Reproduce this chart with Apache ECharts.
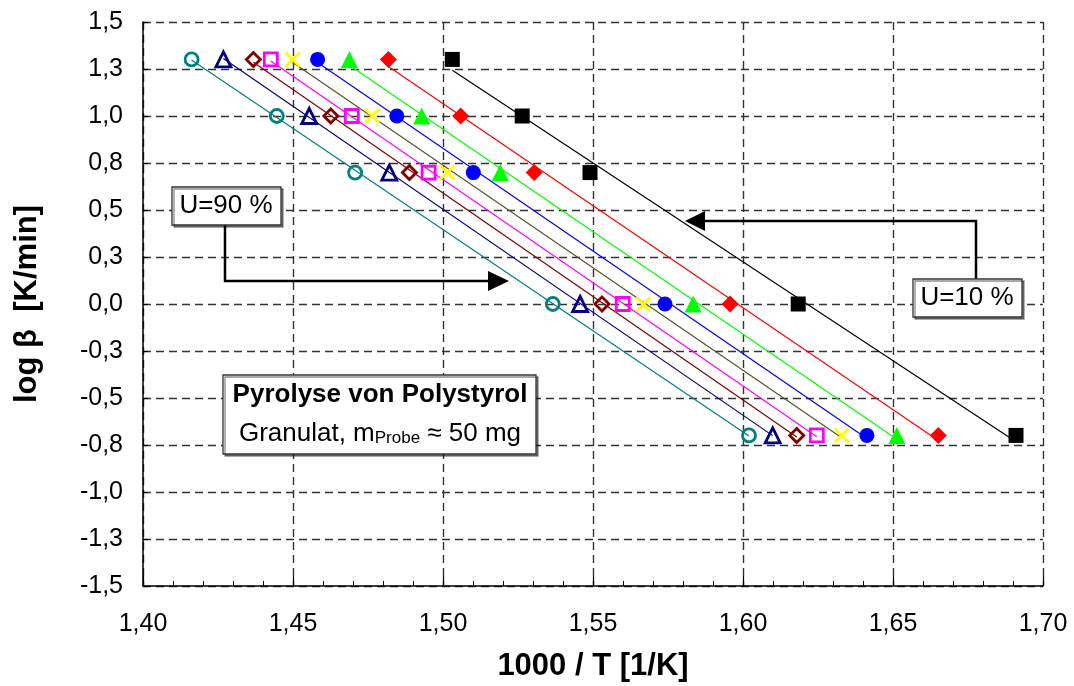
<!DOCTYPE html>
<html>
<head>
<meta charset="utf-8">
<script src="https://cdn.jsdelivr.net/npm/echarts@6/dist/echarts.min.js"></script>
<style>
  html, body { margin: 0; padding: 0; background: #fff; }
  #chart { width: 1074px; height: 686px; }
</style>
</head>
<body>
<div id="chart"></div>
<script>
// log beta (heating rates 20, 10, 5, 1, 0.2 K/min)
const logBeta = [1.301, 1.0, 0.699, 0.0, -0.699]

// 1000/T for each conversion level
const u10 = [1.5031, 1.5264, 1.5490, 1.6184, 1.6910]
const u20 = [1.4818, 1.5059, 1.5304, 1.5957, 1.6651]
const u30 = [1.4688, 1.4929, 1.5191, 1.5834, 1.6513]
const u40 = [1.4582, 1.4846, 1.5101, 1.5740, 1.6413]
const u50 = [1.4499, 1.4764, 1.5014, 1.5668, 1.6329]
const u60 = [1.4426, 1.4696, 1.4952, 1.5599, 1.6246]
const u70 = [1.4368, 1.4626, 1.4888, 1.5530, 1.6179]
const u80 = [1.4268, 1.4554, 1.4821, 1.5457, 1.6099]
const u90 = [1.4162, 1.4446, 1.4707, 1.5366, 1.6020]

const seriesNames = ['U=10 %', 'U=20 %', 'U=30 %', 'U=40 %', 'U=50 %', 'U=60 %', 'U=70 %', 'U=80 %', 'U=90 %']
const seriesX = [u10, u20, u30, u40, u50, u60, u70, u80, u90]

const FONT = '"Liberation Sans", Arial, sans-serif'
const dash = { type: [8, 5], color: '#333', width: 1.4 }

// marker looks per series
const looks = [
  { symbol: 'rect', size: 15, fill: '#000000', line: '#000000' },
  { symbol: 'diamond', size: 17, fill: '#ff0000', line: '#ff0000' },
  { symbol: 'triangle', size: 17, fill: '#00ff00', line: '#00ff00' },
  { symbol: 'circle', size: 15, fill: '#0000ff', line: '#0000ff' },
  { symbol: 'path://M0,0L10,10M10,0L0,10', size: 14, stroke: '#ffff00', line: '#55552a' },
  { symbol: 'rect', size: 13, stroke: '#ff00ff', line: '#ff00ff' },
  { symbol: 'diamond', size: 14, stroke: '#800000', line: '#800000' },
  { symbol: 'triangle', size: 15, stroke: '#000080', line: '#000080' },
  { symbol: 'circle', size: 13, stroke: '#008080', line: '#008080' }
]

// least squares fit y = a + b*x, drawn from first to last point
function fitLine(xs, ys) {
  const n = xs.length
  const mx = xs.reduce((s, v) => s + v, 0) / n
  const my = ys.reduce((s, v) => s + v, 0) / n
  let sxy = 0, sxx = 0
  for (let i = 0; i < n; i++) {
    sxy += (xs[i] - mx) * (ys[i] - my)
    sxx += (xs[i] - mx) * (xs[i] - mx)
  }
  const b = sxy / sxx
  const a = my - b * mx
  const x0 = Math.min(...xs), x1 = Math.max(...xs)
  return [[x0, a + b * x0], [x1, a + b * x1]]
}

const series = []
seriesX.forEach((xs, i) => {
  const lk = looks[i]
  series.push({
    name: seriesNames[i] + ' fit',
    type: 'line',
    data: fitLine(xs, logBeta),
    showSymbol: false,
    symbol: 'none',
    silent: true,
    z: 2,
    lineStyle: { color: lk.line, width: 1.2 }
  })
})
seriesX.forEach((xs, i) => {
  const lk = looks[i]
  const itemStyle = lk.fill
    ? { color: lk.fill, opacity: 1 }
    : { color: 'transparent', borderColor: lk.stroke, borderWidth: 2.8, opacity: 1 }
  series.push({
    name: seriesNames[i],
    type: 'scatter',
    data: xs.map((x, j) => [x, logBeta[j]]),
    symbol: lk.symbol,
    symbolSize: lk.size,
    z: 3,
    itemStyle: itemStyle
  })
})

const box = (x, y, w, h) => ({
  type: 'rect',
  shape: { x: x, y: y, width: w, height: h },
  style: {
    fill: '#fff', stroke: '#333', lineWidth: 1.3,
    shadowColor: 'rgba(0,0,0,0.45)', shadowOffsetX: 2, shadowOffsetY: 2, shadowBlur: 0
  },
  z: 10
})
const label = (x, y, text, size, weight) => ({
  type: 'text',
  x: x, y: y,
  style: {
    text: text, fill: '#000', font: (weight || 'normal') + ' ' + size + 'px ' + FONT,
    textAlign: 'center', textVerticalAlign: 'middle'
  },
  z: 11
})

const chart = echarts.init(document.getElementById('chart'))
const option = {
  backgroundColor: '#fff',
  animation: false,
  grid: { left: 143, right: 31, top: 22, bottom: 100 },
  xAxis: {
    type: 'value',
    min: 1.4,
    max: 1.7,
    interval: 0.05,
    axisLine: { onZero: false, lineStyle: { color: '#000', width: 1.5 } },
    axisTick: { inside: true, length: 10, lineStyle: { color: '#000', width: 1.2 } },
    minorTick: { show: true, splitNumber: 5, length: 5, lineStyle: { color: '#000', width: 1 } },
    splitLine: { show: true, lineStyle: dash },
    axisLabel: {
      color: '#000', fontSize: 25, fontFamily: FONT, margin: 26,
      formatter: v => v.toFixed(2).replace('.', ',')
    }
  },
  yAxis: {
    type: 'value',
    min: -1.5,
    max: 1.5,
    interval: 0.25,
    axisLine: { show: true, onZero: false, lineStyle: { color: '#000', width: 1.5 } },
    axisTick: { show: true, inside: true, length: 5, lineStyle: { color: '#000', width: 1.2 } },
    splitLine: { show: true, lineStyle: dash },
    axisLabel: {
      color: '#000', fontSize: 25, fontFamily: FONT, margin: 20,
      formatter: v => {
        const s = Math.abs(v).toFixed(1).replace('.', ',')
        return (v < -1e-9 ? '-' : '') + s
      }
    }
  },
  graphic: [
    // axis titles
    {
      type: 'text', x: 27, y: 304, rotation: Math.PI / 2,
      style: {
        text: 'log β  [K/min]', fill: '#000', font: 'bold 31px ' + FONT,
        textAlign: 'center', textVerticalAlign: 'middle'
      }
    },
    {
      type: 'text', x: 593, y: 666,
      style: {
        text: '1000 / T [1/K]', fill: '#000', font: 'bold 31px ' + FONT,
        textAlign: 'center', textVerticalAlign: 'middle'
      }
    },
    // U=90 % annotation
    {
      type: 'polyline', z: 9,
      shape: { points: [[225, 225], [225, 281], [490, 281]] },
      style: { stroke: '#000', lineWidth: 2.5, fill: null }
    },
    {
      type: 'polygon', z: 9,
      shape: { points: [[488, 271], [509, 281], [488, 291]] },
      style: { fill: '#000' }
    },
    box(172, 187, 109, 38),
    label(226, 206, 'U=90 %', 26),
    // U=10 % annotation
    {
      type: 'polyline', z: 9,
      shape: { points: [[976, 280], [976, 221], [703, 221]] },
      style: { stroke: '#000', lineWidth: 2.5, fill: null }
    },
    {
      type: 'polygon', z: 9,
      shape: { points: [[705, 211], [685, 221], [705, 231]] },
      style: { fill: '#000' }
    },
    box(913, 279, 109, 38),
    label(967, 298, 'U=10 %', 26),
    // description box
    box(223, 375, 313, 79),
    label(380, 395, 'Pyrolyse von Polystyrol', 26, 'bold'),
    {
      type: 'text', x: 380, y: 432, z: 11,
      style: {
        text: '{n|Granulat, m}{s|Probe}{n| ≈ 50 mg}',
        textAlign: 'center', textVerticalAlign: 'middle',
        rich: {
          n: { fontSize: 26, fontFamily: FONT, fill: '#000', lineHeight: 30, verticalAlign: 'bottom' },
          s: { fontSize: 17, fontFamily: FONT, fill: '#000', lineHeight: 14, verticalAlign: 'bottom' }
        }
      }
    }
  ],
  series: series
}
chart.setOption(option)
</script>
</body>
</html>
